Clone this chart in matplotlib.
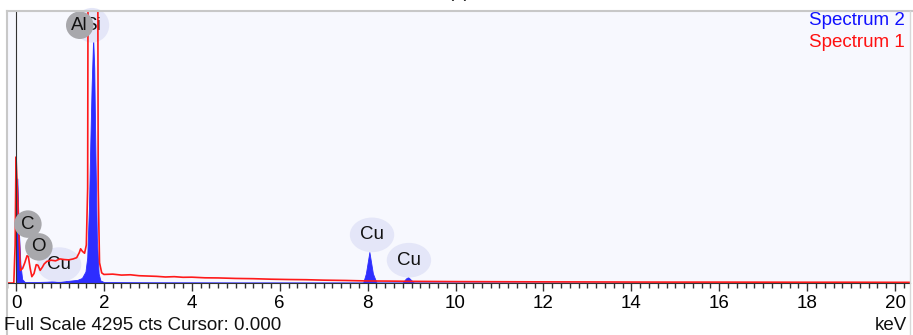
import matplotlib.pyplot as plt
from matplotlib.lines import Line2D
from matplotlib.ticker import MultipleLocator

plt.rcParams['font.family'] = ['Liberation Sans', 'DejaVu Sans']

# Spectrum 1 (red line), keV vs counts
red_kev = [-0.2, -0.05, -0.02, 0.0, 0.03, 0.07, 0.1, 0.15, 0.2, 0.25, 0.28, 0.32, 0.36,
           0.41, 0.46, 0.5, 0.55, 0.6, 0.64, 0.7, 0.8, 0.9, 1.0, 1.1, 1.2, 1.3, 1.38,
           1.44, 1.47, 1.51, 1.56, 1.6, 1.63, 1.65, 1.68, 1.75, 1.82, 1.85, 1.87,
           1.9, 1.95, 2.0, 2.2, 2.4, 2.6, 2.8, 3.0, 3.2, 3.4, 3.6, 3.8, 4.0, 4.3, 4.6,
           5.0, 5.4, 5.8, 6.2, 6.6, 7.0, 7.5, 8.0, 8.5, 9.0, 10.0, 11.0, 12.0, 13.0,
           14.0, 15.0, 16.0, 17.0, 18.0, 19.0, 20.4]
red_cts = [0, 0, 600, 1990, 1500, 700, 200, 230, 320, 430, 420, 240, 100,
           150, 290, 280, 200, 250, 300, 340, 360, 350, 380, 370, 365, 380, 400,
           480, 540, 500, 470, 600, 1500, 9000, 18000, 22000, 18000, 9000, 1500,
           320, 160, 135, 140, 125, 130, 115, 110, 105, 95, 100, 90, 92, 82, 80,
           72, 68, 60, 55, 52, 45, 40, 32, 30, 26, 22, 20, 18, 17,
           15, 14, 14, 13, 12, 12, 10]

# Spectrum 2 (blue filled)
blue_kev = [-0.2, 0.0, 0.01, 0.03, 0.06, 0.1, 0.14, 0.2, 0.4, 0.7, 0.93, 1.2, 1.4,
            1.5, 1.58, 1.62, 1.66, 1.69, 1.72, 1.755, 1.78, 1.81, 1.84, 1.88, 1.92,
            2.0, 3.0, 5.0, 7.0, 7.9, 7.96, 8.04, 8.12, 8.2, 8.8, 8.87, 8.92, 8.97, 9.05,
            12.0, 16.0, 20.4]
blue_cts = [0, 0, 1000, 1650, 900, 300, 60, 15, 15, 20, 30, 35, 50,
            80, 180, 400, 1200, 2200, 3100, 3870, 3400, 1900, 700, 150, 40,
            15, 12, 10, 10, 10, 150, 490, 150, 10, 10, 70, 95, 60, 10,
            8, 6, 5]

# element markers
labels = ['C', 'O', 'Cu', 'Al', 'Si', 'Cu', 'Cu']
label_kev = [0.27, 0.52, 0.98, 1.45, 1.73, 8.1, 8.94]
label_cts = [930, 570, 290, 4070, 4070, 760, 360]
label_dark = [True, True, False, True, False, False, False]

W, H = 913, 335
fig = plt.figure(figsize=(W / 100, H / 100), dpi=100)
fig.patch.set_facecolor('white')
ax = fig.add_axes([7 / W, (H - 283) / H, (910 - 7) / W, (283 - 11) / H])
ax.set_facecolor('#f7f8fe')

ax.fill_between(blue_kev, blue_cts, color='#2d2dff', lw=0.6, zorder=2)
ax.plot(red_kev, red_cts, color='#ff1a1a', lw=1.2, zorder=3)
ax.axvline(0, color='#333333', lw=0.8, zorder=4)

for lab, x, y, dark in zip(labels, label_kev, label_cts, label_dark):
    if dark:
        bb = dict(boxstyle='circle,pad=0.28', fc='#a8a8ac', ec='none')
    else:
        bb = dict(boxstyle='ellipse,pad=0.2', fc='#e4e6f8', ec='none')
    z = 5 if dark else 2.5
    ax.text(x, y, lab, ha='center', va='center', fontsize=13.5, color='#111111',
            bbox=bb, zorder=z)

ax.set_xlim(-0.205, 20.34)
ax.set_ylim(0, 4295)
ax.xaxis.set_major_locator(MultipleLocator(2))
ax.xaxis.set_minor_locator(MultipleLocator(0.2))
ax.tick_params(axis='x', which='major', length=6, width=1, color='#333333',
               labelsize=13.5, pad=3)
ax.tick_params(axis='x', which='minor', length=3.5, width=1, color='#333333')
ax.set_yticks([])
for s in ['left', 'top', 'right']:
    ax.spines[s].set_visible(False)
ax.spines['bottom'].set_color('#333333')
ax.spines['bottom'].set_linewidth(0.8)

# panel frame
fig.add_artist(Line2D([7 / W, 7 / W], [0, (H - 11) / H], color='#c8c8c8', lw=1.5))
fig.add_artist(Line2D([7 / W, 1], [(H - 11) / H, (H - 11) / H], color='#c8c8c8', lw=1.5))
fig.add_artist(Line2D([910 / W, 910 / W], [0, (H - 11) / H], color='#d8d8d8', lw=1))

ax.text(0.994, 0.965, 'Spectrum 2', transform=ax.transAxes, ha='right', va='center',
        fontsize=13.5, color='#1010ff')
ax.text(0.994, 0.885, 'Spectrum 1', transform=ax.transAxes, ha='right', va='center',
        fontsize=13.5, color='#ff1010')

fig.text(4 / W, 9 / H, 'Full Scale 4295 cts Cursor: 0.000', ha='left', va='center',
         fontsize=13.5, color='#111111')
fig.text(907 / W, 9 / H, 'keV', ha='right', va='center', fontsize=13.5, color='#111111')
fig.text(459 / W, 1 + 3 / H, '(b)', ha='center', va='baseline', fontsize=13.5, color='#111111')

fig.savefig('out.png', dpi=100)
